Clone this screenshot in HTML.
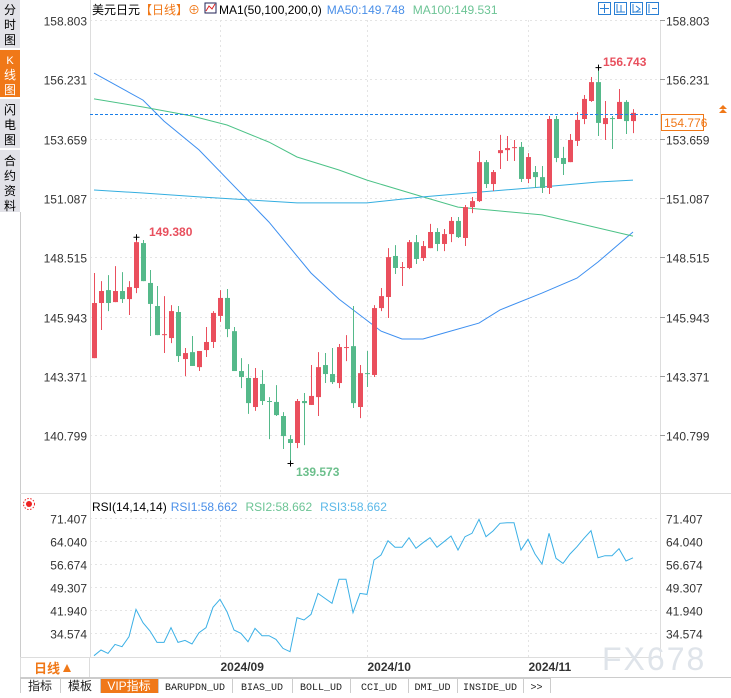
<!DOCTYPE html>
<html><head><meta charset="utf-8"><style>
body{margin:0;background:#fff;width:731px;height:693px;overflow:hidden;font-family:"Liberation Sans","Noto Sans CJK SC",sans-serif}
svg text{font-family:"Liberation Sans","Noto Sans CJK SC",sans-serif}
.mono{font-family:"Liberation Mono","Noto Sans CJK SC",monospace}
</style></head><body>
<svg id="chart" width="731" height="693" xmlns="http://www.w3.org/2000/svg">
<g>
<rect x="0" y="0" width="20" height="693" fill="#fff"/>
<rect x="0" y="0" width="20" height="48" fill="#e2e2e8"/>
<text x="10" y="14" font-size="12" text-anchor="middle">分</text><text x="10" y="29" font-size="12" text-anchor="middle">时</text><text x="10" y="44" font-size="12" text-anchor="middle">图</text>
<rect x="0" y="50" width="20" height="47" fill="#f07818"/>
<text x="10" y="64" font-size="11" fill="#fff" text-anchor="middle">K</text><text x="10" y="79" font-size="12" fill="#fff" text-anchor="middle">线</text><text x="10" y="94" font-size="12" fill="#fff" text-anchor="middle">图</text>
<rect x="0" y="99" width="20" height="49" fill="#e2e2e8"/>
<text x="10" y="114" font-size="12" text-anchor="middle">闪</text><text x="10" y="129" font-size="12" text-anchor="middle">电</text><text x="10" y="144" font-size="12" text-anchor="middle">图</text>
<rect x="0" y="150" width="20" height="62" fill="#e2e2e8"/>
<text x="10" y="165" font-size="12" text-anchor="middle">合</text><text x="10" y="180" font-size="12" text-anchor="middle">约</text><text x="10" y="195" font-size="12" text-anchor="middle">资</text><text x="10" y="210" font-size="12" text-anchor="middle">料</text>
<line x1="20.5" y1="212" x2="20.5" y2="693" stroke="#ccc"/>
</g>
<g id="grid"></g>
<line x1="90.5" y1="0" x2="90.5" y2="657" stroke="#ddd"/>
<line x1="660.5" y1="20" x2="660.5" y2="657" stroke="#ddd"/>
<line x1="20" y1="493.5" x2="731" y2="493.5" stroke="#ddd"/>
<g>
<text x="92" y="14" font-size="12"><tspan fill="#000">美元日元</tspan><tspan fill="#f07818">【日线】</tspan><tspan fill="#f07818">⊕</tspan></text>
<rect x="205" y="3" width="11" height="10" fill="#fff" stroke="#225"/>
<polyline points="206,11 209,6 212,9 215,4" fill="none" stroke="#d22" stroke-width="1"/>
<text x="219" y="14" font-size="12"><tspan fill="#000">MA1(50,100,200,0)</tspan><tspan fill="#4a8fe8" dx="5">MA50:149.748</tspan><tspan fill="#6cc495" dx="8">MA100:149.531</tspan></text>
</g>
<g>
<rect x="598.5" y="2.5" width="12" height="12" fill="none" stroke="#2a7fd4"/><rect x="614.5" y="2.5" width="12" height="12" fill="none" stroke="#2a7fd4"/><rect x="630.5" y="2.5" width="12" height="12" fill="none" stroke="#2a7fd4"/><rect x="646.5" y="2.5" width="12" height="12" fill="none" stroke="#2a7fd4"/>
<path d="M604.5 4v9M600 8.5h9M617 4v9M617 12h8M621 5v7M633 4v9M633 12h8M636 6l4 3-4 3M649 4v9M652 8.5h5" stroke="#2a7fd4" fill="none"/>
</g>
<g id="axes"></g>
<g id="mas"></g>
<g id="candles"></g>
<line x1="90" y1="114.5" x2="660" y2="114.5" stroke="#1a7ee8" stroke-dasharray="3,2"/>
<rect x="661.5" y="114.5" width="42" height="16" fill="#fff" stroke="#f07818"/>
<text x="664" y="127" font-size="12" fill="#f07818">154.776</text>
<path d="M719 113l4-4 4 4zM719 109l4-4 4 4z" fill="#f07818"/>
<text x="149" y="236" font-size="12" font-weight="bold" fill="#e8505e">149.380</text>
<text x="296" y="476" font-size="12" font-weight="bold" fill="#6cbf8c">139.573</text>
<text x="603" y="66" font-size="12" font-weight="bold" fill="#e8505e">156.743</text>
<g>
<circle cx="29" cy="504" r="3" fill="#e22"/><circle cx="29" cy="504" r="5.5" fill="none" stroke="#e22" stroke-dasharray="1.5,1.5"/>
<text x="92" y="511" font-size="12"><tspan fill="#000">RSI(14,14,14)</tspan><tspan fill="#4a8fe8" dx="4">RSI1:58.662</tspan><tspan fill="#6cc495" dx="8">RSI2:58.662</tspan><tspan fill="#5bb8e8" dx="8">RSI3:58.662</tspan></text>
</g>
<g id="rsi"></g>
<line x1="20" y1="657.5" x2="660" y2="657.5" stroke="#ddd"/>
<rect x="20.5" y="657.5" width="69" height="20" fill="#fff" stroke="#ddd"/>
<text x="34" y="673" font-size="13" font-weight="bold" fill="#f07818">日线</text><path d="M63 672l4-8 4 8z" fill="#f07818"/>
<text x="602" y="670" font-size="32" fill="#dfe4ea" letter-spacing="2">FX678</text>
<g id="dates"></g>
<g id="tabs"><line x1="20" y1="677.5" x2="731" y2="677.5" stroke="#ccc"/></g>
</svg>
<script>
var NS='http://www.w3.org/2000/svg';
var opens=[144.14,146.53,147.09,146.57,147.05,146.70,147.18,149.13,147.40,146.40,145.14,145.01,146.14,144.10,144.40,143.75,144.49,144.84,145.97,146.75,145.31,143.58,143.28,142.02,143.02,142.28,142.24,141.63,140.63,140.46,142.28,142.11,142.45,143.84,143.45,143.06,144.58,144.66,142.02,143.49,143.41,146.31,146.79,148.57,148.05,148.05,149.17,148.48,148.91,149.61,149.09,149.52,150.09,149.35,150.69,150.95,152.64,151.69,153.03,153.16,153.27,153.30,151.91,152.21,151.99,151.52,154.51,152.82,152.64,153.56,154.51,155.29,156.11,154.29,154.55,154.51,155.25,154.42];
var highs=[147.83,147.48,147.74,148.13,147.87,147.48,149.38,149.26,147.96,147.27,146.83,146.44,146.40,144.58,145.10,144.45,145.49,146.18,147.09,147.14,145.49,144.14,143.88,143.71,143.62,142.45,142.97,141.80,140.80,142.37,142.63,143.84,144.40,144.36,144.58,144.75,145.14,146.40,143.84,144.45,146.44,147.18,148.91,149.04,148.31,149.26,149.48,149.22,149.96,149.78,149.74,150.26,150.26,150.78,151.13,153.12,152.73,152.30,153.82,153.77,153.60,153.51,153.03,152.47,152.47,154.64,154.64,153.30,153.86,154.81,155.55,156.33,156.74,155.29,154.64,155.81,155.33,154.94];
var lows=[144.14,145.36,146.18,146.57,146.53,146.01,146.96,147.48,145.10,145.14,144.36,144.79,143.97,143.36,143.80,143.58,144.19,144.58,145.71,145.05,143.58,142.84,141.72,141.85,142.11,140.63,141.63,140.20,139.57,140.24,140.37,142.11,141.63,143.06,143.02,142.84,144.01,141.98,141.54,142.89,143.32,146.18,145.88,147.79,147.27,148.00,148.22,148.35,148.91,148.78,148.78,149.17,149.35,149.00,150.43,150.91,151.52,151.39,152.34,152.69,152.69,151.78,151.73,151.52,151.30,151.26,152.64,152.08,152.64,153.34,154.29,155.25,153.77,153.60,153.21,154.51,153.86,153.90];
var closes=[146.53,147.05,146.53,147.05,146.70,147.22,149.17,147.48,146.49,145.14,145.18,146.18,144.23,144.36,143.80,144.45,144.84,146.10,146.75,145.40,143.58,143.32,142.19,143.28,142.28,142.24,141.67,140.76,140.46,142.28,142.19,142.50,143.75,143.45,143.10,144.62,144.62,142.19,143.49,143.45,146.31,146.83,148.52,148.05,148.09,149.17,148.44,149.00,149.61,149.09,149.52,150.09,149.39,150.69,150.95,152.64,151.69,152.21,153.16,153.25,153.29,151.91,152.86,151.99,151.52,154.51,152.82,152.56,153.60,154.47,155.38,156.11,154.34,154.55,154.53,155.25,154.42,154.776];
var ma50Idx=[0,7,10,15,25,31,35,41,44,47,50,55,58,64,69,72,77];
var ma50Val=[156.50,155.33,154.42,153.17,150.04,147.83,146.70,145.31,144.97,144.97,145.23,145.66,146.23,146.96,147.61,148.31,149.61];
var ma100Idx=[0,7,14,19,25,29,35,39,47,52,58,64,69,77];
var ma100Val=[155.38,155.03,154.64,154.25,153.51,152.86,152.30,151.86,151.13,150.69,150.52,150.35,150.00,149.43];
var ma200Idx=[0,7,15,22,29,39,47,55,64,72,77];
var ma200Val=[151.43,151.30,151.13,151.00,150.87,150.87,151.13,151.34,151.56,151.78,151.86];
var rsiVals=[27.30,29.12,28.05,30.93,30.18,33.39,42.14,37.87,35.20,31.57,31.57,36.27,31.57,32.21,31.04,34.67,36.27,42.79,45.35,41.40,35.52,34.45,31.79,36.06,33.71,33.71,32.53,29.65,28.58,39.48,38.73,40.54,47.27,45.67,44.07,51.76,51.76,41.08,47.27,46.95,57.95,59.55,64.14,62.01,62.01,65.11,61.69,63.51,65.11,62.01,63.83,65.64,61.16,65.43,66.50,70.98,65.43,67.24,69.70,69.91,69.91,61.16,64.57,59.87,56.67,66.50,58.49,56.88,59.87,62.22,64.89,67.35,58.70,59.34,59.34,61.58,57.63,58.662];
var priceTicks=['158.803','156.231','153.659','151.087','148.515','145.943','143.371','140.799'];
var rsiTicks=['71.407','64.040','56.674','49.307','41.940','34.574'];
var dateLabels=['2024/09','2024/10','2024/11'];
var dateIdx=[18,39,62];
var tabNames=['指标','模板','VIP指标','BARUPDN_UD','BIAS_UD','BOLL_UD','CCI_UD','DMI_UD','INSIDE_UD','>>'];
var tabW=[40,40,58,74,60,58,58,49,66,27];

function xs(i){return 94+i*7;}
function yp(p){return 20+(158.803-p)*23.06;}
function yr(v){return 518+(71.407-v)*3.122;}
function mk(tag,attrs,parent){var e=document.createElementNS(NS,tag);for(var k in attrs)e.setAttribute(k,attrs[k]);parent.appendChild(e);return e;}
var grid=document.getElementById('grid'),axes=document.getElementById('axes');
priceTicks.forEach(function(t){
  var y=Math.round(yp(+t))+0.5;
  var l=mk('line',{x1:90,y1:y,x2:660,y2:y,stroke:'#e4e4e4','stroke-dasharray':'2,3'},grid);
  
  
  mk('line',{x1:660,y1:y,x2:665,y2:y,stroke:'#999'},axes);
  var a=mk('text',{x:87,y:y+5,'font-size':12,'text-anchor':'end',fill:'#333'},axes);a.textContent=t;
  
  
  var b=mk('text',{x:666,y:y+5,'font-size':12,fill:'#333'},axes);b.textContent=t;
  
  
});
rsiTicks.forEach(function(t){
  var y=Math.round(yr(+t))+0.5;
  var l=mk('line',{x1:90,y1:y,x2:660,y2:y,stroke:'#e4e4e4','stroke-dasharray':'2,3'},grid);
  
  
  var a=mk('text',{x:87,y:y+5,'font-size':12,'text-anchor':'end',fill:'#333'},axes);a.textContent=t;
  
  
  var b=mk('text',{x:666,y:y+5,'font-size':12,fill:'#333'},axes);b.textContent=t;
  
  
});
var dates=document.getElementById('dates');
dateLabels.forEach(function(d,k){
  var x=xs(dateIdx[k])+0.5;
  var l=mk('line',{x1:x,y1:20,x2:x,y2:657,stroke:'#e4e4e4','stroke-dasharray':'2,3'},grid);
  
  
  var t=mk('text',{x:x,y:671,'font-size':12,'font-weight':'bold',fill:'#333'},dates);t.textContent=d;
  
  
});
var cg=document.getElementById('candles');
for(var i=0;i<opens.length;i++){
  var up=closes[i]>=opens[i],col=up?'#ea4f5d':'#55b98a',x=xs(i);
  var w=mk('line',{x1:x+0.5,y1:yp(highs[i]),x2:x+0.5,y2:yp(lows[i]),stroke:col},cg);
  
  
  var t=yp(Math.max(opens[i],closes[i])),b=yp(Math.min(opens[i],closes[i]));
  var r=mk('rect',{x:x-2,y:t,width:5,height:Math.max(1,b-t),fill:col},cg);
  
  
}
function maLine(idx,val,col,name){
  var pts=idx.map(function(k,j){return xs(k)+','+yp(val[j]).toFixed(1);}).join(' ');
  var p=mk('polyline',{points:pts,fill:'none',stroke:col,'stroke-width':1},document.getElementById('mas'));
  
  
}
maLine(ma50Idx,ma50Val,'#3d8ff0','ma50-line');
maLine(ma100Idx,ma100Val,'#4cc287','ma100-line');
maLine(ma200Idx,ma200Val,'#34aee0','ma200-line');
[[6,highs[6]],[28,lows[28]],[72,highs[72]]].forEach(function(m){
  var x=xs(m[0])+0.5,y=yp(m[1]);
  var c=mk('path',{d:'M'+(x-3)+' '+y+'h6M'+x+' '+(y-3)+'v6',stroke:'#000'},cg);
  
  
});
var rp=rsiVals.map(function(v,i){return xs(i)+','+yr(v).toFixed(1);}).join(' ');
var rl=mk('polyline',{points:rp,fill:'none',stroke:'#3bb0e6','stroke-width':1},document.getElementById('rsi'));


var tabs=document.getElementById('tabs'),tx=20;
tabNames.forEach(function(n,k){
  var vip=n==='VIP指标';
  var r=mk('rect',{x:tx+0.5,y:678.5,width:tabW[k],height:15,fill:vip?'#f07818':'#fff',stroke:'#ccc'},tabs);
  
  
  var t=mk('text',{x:tx+tabW[k]/2,y:690,'font-size':k<3?12:10,'text-anchor':'middle',fill:vip?'#fff':'#222'},tabs);
  if(k>=3)t.setAttribute('class','mono');
  t.textContent=n;
  
  
  tx+=tabW[k];
});
</script>
</body></html>
